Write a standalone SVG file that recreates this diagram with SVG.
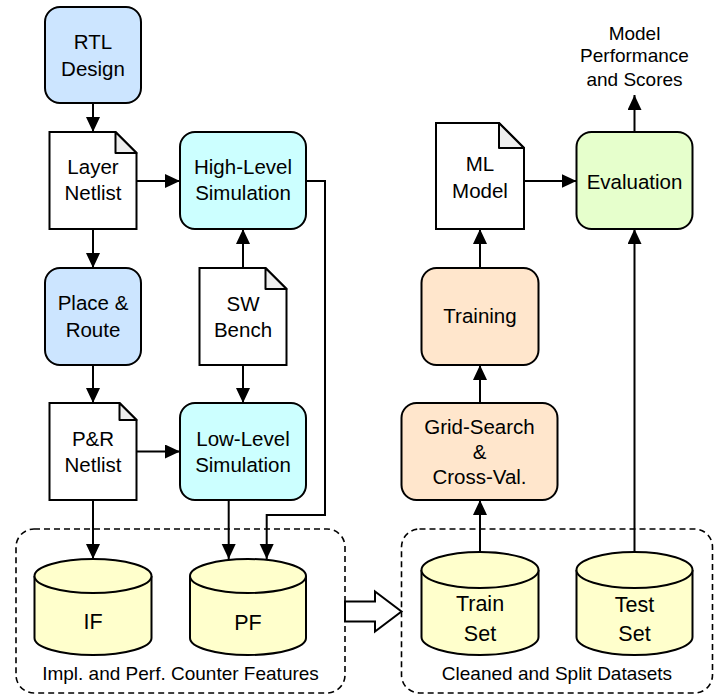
<svg xmlns="http://www.w3.org/2000/svg" width="721" height="695" viewBox="0 0 721 695">
<style>
  text { font-family: "Liberation Sans", Arial, sans-serif; fill: #000; text-anchor: middle; }
  .n { font-size: 20.5px; }
  .c { font-size: 21.5px; }
  .l { font-size: 19px; }
  .box { stroke: #000; stroke-width: 2; }
  .blue { fill: #cce5ff; }
  .cyan { fill: #ccffff; }
  .orange { fill: #ffe6cc; }
  .green { fill: #e6ffcc; }
  .doc { fill: #fff; stroke: #000; stroke-width: 2; }
  .fold { fill: #eeeeee; stroke: #000; stroke-width: 2; stroke-linejoin: round; }
  .cyl { fill: #ffffcc; stroke: #000; stroke-width: 2; }
  .grp { fill: none; stroke: #000; stroke-width: 1.6; stroke-dasharray: 6 4; }
  .edge { fill: none; stroke: #000; stroke-width: 2; marker-end: url(#ah); }
</style>
<defs>
  <marker id="ah" markerUnits="userSpaceOnUse" markerWidth="17" markerHeight="16" refX="15" refY="7" orient="auto">
    <path d="M0,0 L15,7 L0,14 Z" fill="#000"/>
  </marker>
</defs>
<rect width="721" height="695" fill="#fff"/>

<g id="group-features">
  <rect class="grp" x="16" y="529" width="329" height="164" rx="18"/>
  <text class="l" x="180.5" y="679.5">Impl. and Perf. Counter Features</text>
</g>
<g id="group-datasets">
  <rect class="grp" x="401.5" y="529" width="311" height="164" rx="18"/>
  <text class="l" x="557" y="679.5">Cleaned and Split Datasets</text>
</g>

<g id="connectors">
  <path class="edge" d="M93,103 V132"/>
  <path class="edge" d="M136.5,181 H180"/>
  <path class="edge" d="M93,229 V268"/>
  <path class="edge" d="M243,268 V229"/>
  <path class="edge" d="M243,365 V403"/>
  <path class="edge" d="M93,365 V403"/>
  <path class="edge" d="M136.5,451.5 H180"/>
  <path class="edge" d="M93,500 V559"/>
  <path class="edge" d="M228.7,500 V559"/>
  <path class="edge" d="M306,181 H325 V515 H266.7 V559"/>
  <path class="edge" d="M480,552 V500"/>
  <path class="edge" d="M480,403 V365"/>
  <path class="edge" d="M480,268 V229"/>
  <path class="edge" d="M524,181 H576.5"/>
  <path class="edge" d="M634.5,552 V229"/>
  <path class="edge" d="M634.5,132 V95"/>
  <polygon points="345,601.5 375,601.5 375,591.5 401.5,611.5 375,631.5 375,621.5 345,621.5" fill="#fff" stroke="#000" stroke-width="2" stroke-linejoin="miter"/>
</g>

<g id="rtl-design">
  <rect class="box blue" x="45" y="7" width="96" height="96" rx="15"/>
  <text class="n" x="93" y="48.5">RTL</text>
  <text class="n" x="93" y="76">Design</text>
</g>

<g id="layer-netlist">
  <path class="doc" d="M49.5,132 H115.5 L136.5,153 V229 H49.5 Z"/>
  <path class="fold" d="M115.5,132 V153 H136.5 Z"/>
  <text class="n" x="93" y="173.5">Layer</text>
  <text class="n" x="93" y="199.5">Netlist</text>
</g>

<g id="high-level-simulation">
  <rect class="box cyan" x="180" y="132" width="126" height="97" rx="15"/>
  <text class="n" x="243" y="173.5">High-Level</text>
  <text class="n" x="243" y="199.5">Simulation</text>
</g>

<g id="place-route">
  <rect class="box blue" x="45" y="268" width="96" height="97" rx="15"/>
  <text class="n" x="93" y="309.5">Place &amp;</text>
  <text class="n" x="93" y="336.5">Route</text>
</g>

<g id="sw-bench">
  <path class="doc" d="M199.5,268 H265.5 L286.5,289 V365 H199.5 Z"/>
  <path class="fold" d="M265.5,268 V289 H286.5 Z"/>
  <text class="n" x="243" y="310.5">SW</text>
  <text class="n" x="243" y="337">Bench</text>
</g>

<g id="pr-netlist">
  <path class="doc" d="M49.5,403 H119.5 L136.5,420 V500 H49.5 Z"/>
  <path class="fold" d="M119.5,403 V420 H136.5 Z"/>
  <text class="n" x="93" y="445.5">P&amp;R</text>
  <text class="n" x="93" y="471.5">Netlist</text>
</g>

<g id="low-level-simulation">
  <rect class="box cyan" x="180" y="403" width="126" height="97" rx="15"/>
  <text class="n" x="243" y="445.5">Low-Level</text>
  <text class="n" x="243" y="471.5">Simulation</text>
</g>

<g id="if">
  <path class="cyl" d="M34.5,576 A58.5,17 0 0 1 151.5,576 V638 A58.5,17 0 0 1 34.5,638 Z"/>
  <path class="cyl" fill="none" d="M34.5,576 A58.5,17 0 0 0 151.5,576"/>
  <text class="c" x="93" y="629">IF</text>
</g>

<g id="pf">
  <path class="cyl" d="M190,576 A58,17 0 0 1 306,576 V638 A58,17 0 0 1 190,638 Z"/>
  <path class="cyl" fill="none" d="M190,576 A58,17 0 0 0 306,576"/>
  <text class="c" x="248" y="630">PF</text>
</g>

<g id="train-set">
  <path class="cyl" d="M421.5,570 A58.5,18 0 0 1 538.5,570 V637 A58.5,18 0 0 1 421.5,637 Z"/>
  <path class="cyl" fill="none" d="M421.5,570 A58.5,18 0 0 0 538.5,570"/>
  <text class="c" x="480" y="610.5">Train</text>
  <text class="c" x="480" y="640.5">Set</text>
</g>

<g id="test-set">
  <path class="cyl" d="M576.5,570 A58,18 0 0 1 692.5,570 V637 A58,18 0 0 1 576.5,637 Z"/>
  <path class="cyl" fill="none" d="M576.5,570 A58,18 0 0 0 692.5,570"/>
  <text class="c" x="634.5" y="612">Test</text>
  <text class="c" x="634.5" y="640.5">Set</text>
</g>

<g id="grid-search">
  <rect class="box orange" x="401.5" y="403" width="156" height="97" rx="15"/>
  <text class="n" x="479.5" y="434">Grid-Search</text>
  <text class="n" x="479.5" y="459">&amp;</text>
  <text class="n" x="479.5" y="484">Cross-Val.</text>
</g>

<g id="training">
  <rect class="box orange" x="421.5" y="268" width="117" height="97" rx="15"/>
  <text class="n" x="480" y="323">Training</text>
</g>

<g id="ml-model">
  <path class="doc" d="M436,123 H499 L524,148 V229 H436 Z"/>
  <path class="fold" d="M499,123 V148 H524 Z"/>
  <text class="n" x="480" y="170.5">ML</text>
  <text class="n" x="480" y="198">Model</text>
</g>

<g id="evaluation">
  <rect class="box green" x="576.5" y="132" width="116" height="97" rx="15"/>
  <text class="n" x="634.5" y="189">Evaluation</text>
</g>

<g id="model-performance">
  <text class="l" x="634.5" y="40">Model</text>
  <text class="l" x="634.5" y="62">Performance</text>
  <text class="l" x="634.5" y="85.5">and Scores</text>
</g>
</svg>
